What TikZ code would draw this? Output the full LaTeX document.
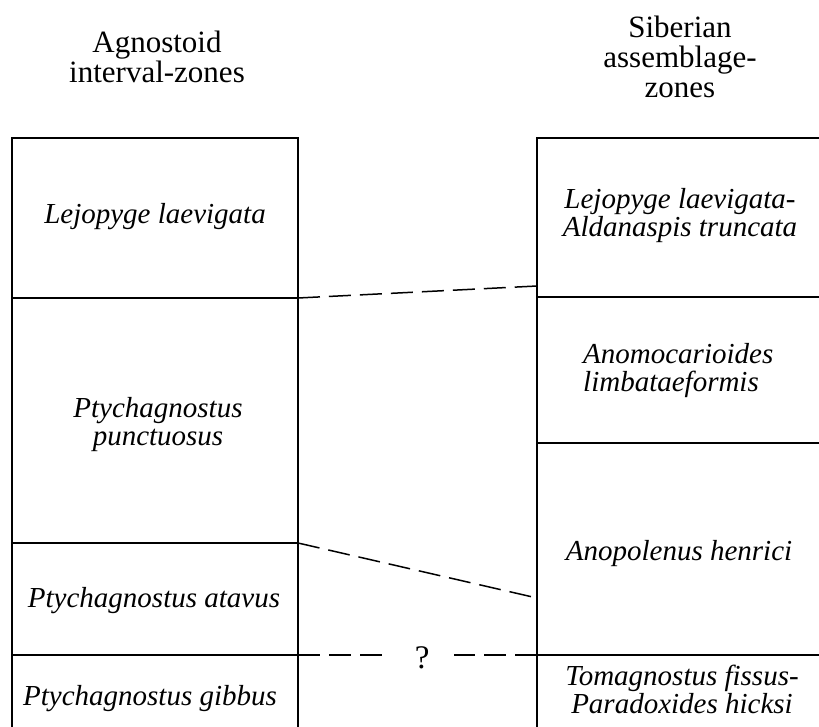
\documentclass[tikz,border=0pt]{standalone}
\usepackage{fontspec}
\setmainfont{Liberation Serif}

\begin{document}
\begin{tikzpicture}[x=1pt,y=-1pt,
		heading/.style={font=\fontsize{31}{30}\selectfont,align=center,inner sep=0pt},
		zone/.style={font=\fontsize{29}{28}\selectfont\itshape,align=center,inner sep=0pt},
		frame/.style={line width=1.8pt},
		link/.style={line width=1.5pt,dash pattern=on 22pt off 9pt}]
			\useasboundingbox (0,0) rectangle (819,727);

			% column heads
			\node[heading] (agnhead) at (157,57) {Agnostoid\\interval-zones};
			\node[heading] (sibhead) at (680,57) {Siberian\\assemblage-\\zones};

			% agnostoid column
			\draw[frame] (12,727) -- (12,138) -- (298,138) -- (298,727);
			\draw[frame] (12,298) -- (298,298) (12,543) -- (298,543) (12,655) -- (298,655);
			\node[zone] (laevigata) at (155,217) {Lejopyge laevigata};
			\node[zone] (punctuosus) at (158,425) {Ptychagnostus\\punctuosus};
			\node[zone] (atavus) at (154,601) {Ptychagnostus atavus};
			\node[zone] (gibbus) at (150,699) {Ptychagnostus gibbus};

			% siberian column
			\draw[frame] (819,138) -- (537,138) -- (537,727);
			\draw[frame] (537,297) -- (819,297) (537,443) -- (819,443) (537,655) -- (819,655);
			\node[zone] (truncata) at (680,216) {Lejopyge laevigata-\\Aldanaspis truncata};
			\node[zone,align=left,anchor=west] (limbata) at (583,371) {Anomocarioides\\limbataeformis};
			\node[zone] (henrici) at (679,554) {Anopolenus henrici};
			\node[zone] (hicksi) at (682,689) {Tomagnostus fissus-\\Paradoxides hicksi};

			% correlation
			\coordinate (a1) at (298,298);
			\coordinate (a2) at (298,543);
			\coordinate (a3) at (298,655);
			\coordinate (s1) at (537,286);
			\coordinate (s2) at (537,598);
			\coordinate (s3) at (537,655);
			\draw[link] (a1) -- (s1);
			\draw[link] (a2) -- (s2);
			\draw[link] (a3) -- node[pos=0.52,fill=white,inner xsep=24pt,inner ysep=2pt,yshift=-3pt,font=\fontsize{33}{30}\selectfont] (query) {?} (s3);
		\end{tikzpicture}
\end{document}
